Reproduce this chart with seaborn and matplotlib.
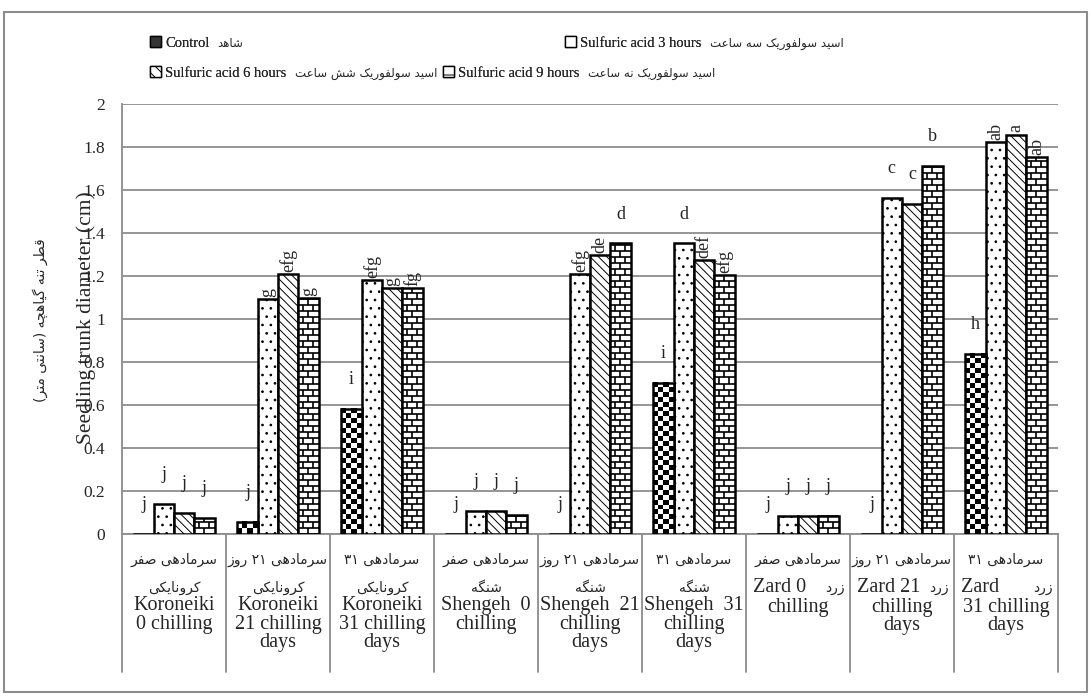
import re
import numpy as np
import pandas as pd
import matplotlib
matplotlib.use("Agg")
import matplotlib.pyplot as plt
import matplotlib.transforms as mtransforms
from matplotlib.patches import Patch, Rectangle
from matplotlib.collections import LineCollection
import seaborn as sns

# ---- data ----
groups = ["K0", "K21", "K31", "S0", "S21", "S31", "Z0", "Z21", "Z31"]
treatments = ["Control", "Sulfuric acid 3 hours", "Sulfuric acid 6 hours", "Sulfuric acid 9 hours"]
treatments_fa = ["شاهد", "اسید سولفوریک سه ساعت", "اسید سولفوریک شش ساعت", "اسید سولفوریک نه ساعت"]

control = [0.0, 0.056, 0.583, 0.0, 0.0, 0.704, 0.0, 0.0, 0.838]
acid3 = [0.139, 1.093, 1.180, 0.107, 1.210, 1.352, 0.085, 1.565, 1.821]
acid6 = [0.100, 1.208, 1.143, 0.107, 1.296, 1.273, 0.085, 1.537, 1.858]
acid9 = [0.075, 1.097, 1.143, 0.088, 1.352, 1.204, 0.085, 1.713, 1.755]

control_lbl = ["j", "j", "i", "j", "j", "i", "j", "j", "h"]
acid3_lbl = ["j", "g", "efg", "j", "efg", "d", "j", "c", "ab"]
acid6_lbl = ["j", "efg", "g", "j", "de", "def", "j", "c", "a"]
acid9_lbl = ["j", "g", "fg", "j", "d", "efg", "j", "b", "ab"]

chill_fa = ["سرمادهی صفر", "سرمادهی ۲۱ روز", "سرمادهی ۳۱"] * 3
cultivar_fa = ["کرونایکی", "کرونایکی", "کرونایکی", "شنگه", "شنگه", "شنگه", "", "", ""]
zard_en = ["", "", "", "", "", "", "Zard 0", "Zard 21", "Zard"]
zard_fa = ["", "", "", "", "", "", "زرد", "زرد", "زرد"]
group_en = ["Koroneiki\n0 chilling", "Koroneiki\n21 chilling\ndays", "Koroneiki\n31 chilling\ndays",
            "Shengeh  0\nchilling", "Shengeh  21\nchilling\ndays", "Shengeh  31\nchilling\ndays",
            "chilling", "chilling\ndays", "31 chilling\ndays"]
ylabel_en = "Seedling trunk diameter (cm)"
ylabel_fa = "قطر تنه گیاهچه (سانتی متر)"
yticks = [0, 0.2, 0.4, 0.6, 0.8, 1, 1.2, 1.4, 1.6, 1.8, 2]

# ---- minimal Persian shaping (matplotlib has no bidi / joining) ----
DUAL = {"ت": "\uFE95\uFE96\uFE97\uFE98", "س": "\uFEB1\uFEB2\uFEB3\uFEB4",
        "ش": "\uFEB5\uFEB6\uFEB7\uFEB8", "ص": "\uFEB9\uFEBA\uFEBB\uFEBC",
        "ط": "\uFEC1\uFEC2\uFEC3\uFEC4", "ع": "\uFEC9\uFECA\uFECB\uFECC",
        "ف": "\uFED1\uFED2\uFED3\uFED4", "ق": "\uFED5\uFED6\uFED7\uFED8",
        "ل": "\uFEDD\uFEDE\uFEDF\uFEE0", "م": "\uFEE1\uFEE2\uFEE3\uFEE4",
        "ن": "\uFEE5\uFEE6\uFEE7\uFEE8", "ه": "\uFEE9\uFEEA\uFEEB\uFEEC",
        "ک": "\uFB8E\uFB8F\uFB90\uFB91", "گ": "\uFB92\uFB93\uFB94\uFB95",
        "ی": "\uFBFC\uFBFD\uFBFE\uFBFF", "چ": "\uFB7A\uFB7B\uFB7C\uFB7D"}
RIGHT = {"ا": "\uFE8D\uFE8E", "د": "\uFEA9\uFEAA", "ر": "\uFEAD\uFEAE",
         "ز": "\uFEAF\uFEB0", "و": "\uFEED\uFEEE"}


def fa(s):
    out = []
    for i, ch in enumerate(s):
        prev = s[i - 1] if i > 0 else ""
        nxt = s[i + 1] if i + 1 < len(s) else ""
        jp = prev in DUAL
        if ch in RIGHT:
            out.append(RIGHT[ch][1 if jp else 0])
        elif ch in DUAL:
            jn = nxt in DUAL or nxt in RIGHT
            out.append(DUAL[ch][(3 if jn else 1) if jp else (2 if jn else 0)])
        else:
            out.append(ch)
    runs = re.findall(r"\d+|\D+", "".join(out))
    vis = []
    for r in reversed(runs):
        vis.append(r if r[0].isdigit() else r[::-1].translate(str.maketrans("()", ")(")))
    return "".join(vis)


# ---- long table for seaborn ----
df = pd.DataFrame({
    "group": groups * 4,
    "treatment": np.repeat(treatments, len(groups)),
    "value": control + acid3 + acid6 + acid9,
})
letters = [control_lbl, acid3_lbl, acid6_lbl, acid9_lbl]

sns.set_style("white")
SERIF = ["Liberation Serif", "DejaVu Sans"]
PERS = ["DejaVu Sans"]
plt.rcParams["font.family"] = SERIF
plt.rcParams["hatch.linewidth"] = 0.7
GRAY = "#8c8c8c"

fig = plt.figure(figsize=(10.91, 6.97), dpi=100)
ax = fig.add_axes([122 / 1091, 1 - 534 / 697, 936 / 1091, 430 / 697])

sns.barplot(data=df, x="group", y="value", hue="treatment", order=groups,
            hue_order=treatments, palette=["white"] * 4, saturation=1,
            width=0.78, edgecolor="black", linewidth=1.8, errorbar=None,
            legend=False, ax=ax, zorder=3)

ax.set_ylim(0, 2)
ax.set_xlim(-0.5, len(groups) - 0.5)
ax.set_yticks(yticks)
ax.set_yticklabels([f"{v:g}" for v in yticks])
ax.tick_params(axis="y", direction="out", length=7, width=1.2, color=GRAY,
               labelsize=12.5, pad=5)
ax.tick_params(axis="x", length=0, labelbottom=False)
ax.set_xlabel("")
ax.set_ylabel("")
ax.yaxis.grid(True, color=GRAY, linewidth=1.3)
ax.set_axisbelow(True)
for side in ["top", "right"]:
    ax.spines[side].set_visible(False)
for side in ["left", "bottom"]:
    ax.spines[side].set_color(GRAY)
    ax.spines[side].set_linewidth(1.3)

# patterns: dots, diagonals, checker board, bricks
cont = ax.containers
for p in cont[1]:
    p.set_hatch("..")
for p in cont[2]:
    p.set_hatch("\\\\\\\\")

for p in cont[0]:
    h = p.get_height()
    if h <= 0:
        continue
    x0, w = p.get_x(), p.get_width()
    rows = max(1, int(round(h / 0.023)))
    board = np.add.outer(np.arange(rows), np.arange(4)) % 2
    ax.imshow(board, cmap="gray", origin="lower", interpolation="nearest",
              extent=(x0, x0 + w, 0, h), aspect="auto", clip_path=p,
              zorder=p.get_zorder() + 0.1)
    p.set_facecolor("none")
    p.set_zorder(p.get_zorder() + 0.2)

for p in cont[3]:
    h = p.get_height()
    x0, w = p.get_x(), p.get_width()
    rh = 0.028
    segs = []
    for i, y in enumerate(np.arange(0, h, rh)):
        segs.append([(x0, y), (x0 + w, y)])
        xs = [x0 + w / 2] if i % 2 == 0 else [x0 + w / 4, x0 + 3 * w / 4]
        for xv in xs:
            segs.append([(xv, y), (xv, min(y + rh, h))])
    lc = LineCollection(segs, colors="black", linewidths=1.2, zorder=p.get_zorder() + 0.1)
    lc.set_clip_path(p)
    ax.add_collection(lc)

ax.set_ylim(0, 2)
ax.set_xlim(-0.5, len(groups) - 0.5)

# significance letters
upright = {"j", "i", "h", "c", "b", "d"}
for bars, labs in zip(cont, letters):
    for p, lab in zip(bars, labs):
        xc = p.get_x() + p.get_width() / 2
        top = p.get_height()
        if lab in upright:
            ax.annotate(lab, (xc, top), xytext=(0, 21), textcoords="offset points",
                        ha="center", va="center", fontsize=13, zorder=6)
        else:
            ax.annotate(lab, (xc, top), xytext=(0, 1.5), textcoords="offset points",
                        ha="center", va="bottom", rotation=90, fontsize=13, zorder=6)

# category table under the axis
trans = mtransforms.blended_transform_factory(ax.transData, ax.transAxes)
for k in range(len(groups) + 1):
    ax.plot([k - 0.5, k - 0.5], [0, -0.321], transform=trans, color=GRAY,
            linewidth=1.3, clip_on=False)
for i in range(len(groups)):
    ax.text(i, -0.06, fa(chill_fa[i]), transform=trans, ha="center", va="center",
            fontsize=10, family=PERS)
    if cultivar_fa[i]:
        ax.text(i, -0.125, fa(cultivar_fa[i]), transform=trans, ha="center",
                va="center", fontsize=10, family=PERS)
    if zard_en[i]:
        ax.text(i - 0.43, -0.125, zard_en[i], transform=trans, ha="left",
                va="center", fontsize=14.5)
        ax.text(i + 0.45, -0.125, fa(zard_fa[i]), transform=trans, ha="right",
                va="center", fontsize=10, family=PERS)
    ax.text(i, -0.148 if zard_en[i] else -0.145, group_en[i], transform=trans,
            ha="center", va="top", fontsize=14.5, linespacing=0.95)

# axis titles (English over the tick labels, Persian further left)
fig.text(86 / 1091, 1 - 318 / 697, ylabel_en, rotation=90, ha="center",
         va="center", fontsize=15.5)
fig.text(40 / 1091, 1 - 320 / 697, fa(ylabel_fa), rotation=90, ha="center",
         va="center", fontsize=10, family=PERS)

# legend, one entry per block as in the original layout
handles = [Patch(facecolor="#333333", edgecolor="black"),
           Patch(facecolor="white", edgecolor="black"),
           Patch(facecolor="white", edgecolor="black", hatch="\\\\\\"),
           Patch(facecolor="white", edgecolor="black", hatch="-")]
spots = [(150, 43), (565, 43), (150, 73), (443, 73)]
legends = []
for hnd, en, (px, py) in zip(handles, treatments, spots):
    lg = fig.legend([hnd], [en], loc="center left",
                    bbox_to_anchor=(px / 1091, 1 - py / 697), frameon=False,
                    handlelength=0.75, handleheight=0.75, handletextpad=0.3,
                    borderpad=0, borderaxespad=0,
                    prop={"family": SERIF, "size": 10.5})
    fig.add_artist(lg)
    legends.append(lg)

fig.canvas.draw()
to_fig = fig.transFigure.inverted()
for lg, far in zip(legends, treatments_fa):
    bb = lg.get_texts()[0].get_window_extent()
    fx, fy = to_fig.transform((bb.x1 + 8, (bb.y0 + bb.y1) / 2))
    fig.text(fx, fy, fa(far), ha="left", va="center", fontsize=8.5, family=PERS)

fig.patches.append(Rectangle((4 / 1091, 5 / 697), 1083 / 1091, 680 / 697,
                             transform=fig.transFigure, fill=False,
                             edgecolor=GRAY, linewidth=1.5))

fig.savefig("out.png", dpi=100)
